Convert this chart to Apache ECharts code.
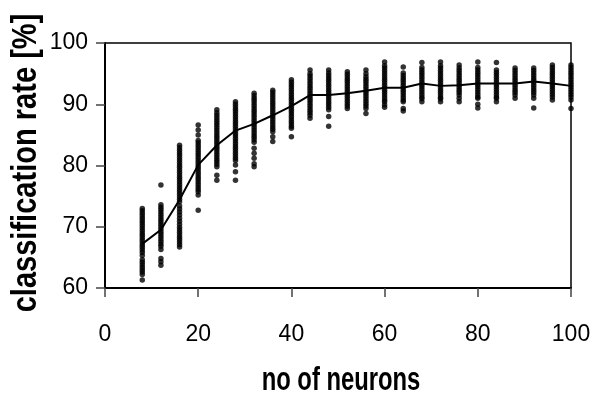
<!DOCTYPE html>
<html>
<head>
<meta charset="utf-8">
<script src="https://cdn.jsdelivr.net/npm/echarts@6/dist/echarts.min.js"></script>
<style>
html,body{margin:0;padding:0;background:#fff;}
#chart{width:595px;height:396px;}
</style>
</head>
<body>
<div id="chart"></div>
<script>
// Number of neurons (x positions of the columns)
var neurons = [8,12,16,20,24,28,32,36,40,44,48,52,56,60,64,68,72,76,80,84,88,92,96,100];
// Mean classification rate per neuron count (the line)
var meanRate = [67.2,69.5,74.4,80.1,83.3,85.7,86.8,88.2,89.7,91.5,91.5,91.8,92.2,92.7,92.7,93.4,93.0,93.1,93.4,93.4,93.4,93.7,93.4,93.0];
// Individual runs per neuron count
var r8 = [73.0,72.6,72.2,71.8,71.4,71.0,70.6,70.2,69.8,69.4,69.0,68.6,68.2,67.8,67.4,67.0,66.6,66.2,65.8,65.3,64.6,64.2,63.8,63.4,63.0,62.6,62.2,61.3];
var r12 = [76.8,73.6,73.2,72.8,72.4,72.0,71.6,71.2,70.8,70.4,70.0,69.6,69.2,68.8,68.4,68.0,67.6,67.2,66.8,66.3,64.8,64.3,63.7];
var r16 = [83.3,82.9,82.5,82.1,81.7,81.3,80.9,80.5,80.1,79.7,79.3,78.9,78.5,78.1,77.7,77.3,76.9,76.5,76.1,75.7,75.3,74.9,74.5,74.1,73.4,72.9,72.4,71.9,71.4,70.9,70.4,69.9,69.5,69.1,68.7,68.3,67.9,67.5,67.1,66.7];
var r20 = [86.6,85.8,85.0,84.1,83.7,83.3,82.9,82.5,82.1,81.7,81.3,80.9,80.5,80.1,79.7,79.3,78.9,78.5,78.1,77.7,77.3,76.9,76.5,76.1,75.7,75.2,72.7];
var r24 = [89.1,88.6,88.2,87.8,87.4,87.0,86.6,86.2,85.8,85.4,85.0,84.6,84.2,83.8,83.4,83.0,82.6,82.2,81.8,81.4,81.0,80.6,80.2,79.8,78.4,77.6];
var r28 = [90.4,90.0,89.6,89.2,88.8,88.4,88.0,87.6,87.2,86.8,86.4,86.0,85.6,85.2,84.8,84.4,84.0,83.6,83.2,82.8,82.4,82.0,81.6,81.2,80.8,80.1,79.0,77.6];
var r32 = [91.8,91.4,91.0,90.6,90.2,89.8,89.4,89.0,88.6,88.2,87.8,87.4,87.0,86.6,86.2,85.8,85.4,85.0,84.6,84.2,83.8,82.8,82.0,81.2,80.3,79.8];
var r36 = [92.3,91.9,91.5,91.1,90.7,90.3,89.9,89.5,89.1,88.7,88.3,87.9,87.5,87.1,86.7,86.3,85.9,85.5,84.7,83.9];
var r40 = [94.0,93.6,93.2,92.8,92.4,92.0,91.6,91.2,90.8,90.4,90.0,89.6,89.2,88.8,88.4,88.0,87.6,87.2,86.8,86.4,86.1,84.7];
var r44 = [95.6,95.0,94.6,94.2,93.8,93.4,93.0,92.6,92.2,91.8,91.4,91.0,90.6,90.2,89.8,89.4,89.0,88.6,88.2,87.7];
var r48 = [95.6,95.1,94.7,94.3,93.9,93.5,93.1,92.7,92.3,91.9,91.5,91.1,90.7,90.3,89.9,89.5,89.1,88.0,86.4];
var r52 = [95.3,94.9,94.5,94.1,93.7,93.3,92.9,92.5,92.1,91.7,91.3,90.9,90.5,90.1,89.7,89.3];
var r56 = [95.6,95.0,94.5,94.1,93.7,93.3,92.9,92.5,92.1,91.7,91.3,90.9,90.5,90.1,89.7,89.3,88.5];
var r60 = [96.9,96.3,95.9,95.5,95.1,94.7,94.3,93.9,93.5,93.1,92.7,92.3,91.9,91.5,91.1,90.7,90.4,89.9,89.5];
var r64 = [96.1,95.1,94.7,94.3,93.9,93.5,93.1,92.7,92.3,91.9,91.5,91.1,90.7,90.4,89.3,88.9];
var r68 = [96.8,96.0,95.6,95.2,94.8,94.4,94.0,93.6,93.2,92.8,92.4,92.0,91.6,91.2,90.9,90.4];
var r72 = [96.9,96.3,95.9,95.5,95.1,94.7,94.3,93.9,93.5,93.1,92.7,92.3,91.9,91.5,91.1,90.9,90.4];
var r76 = [96.4,95.9,95.5,95.1,94.7,94.3,93.9,93.5,93.1,92.7,92.3,91.9,91.5,91.0,90.4];
var r80 = [96.9,96.0,95.6,95.2,94.8,94.4,94.0,93.6,93.2,92.8,92.4,92.0,91.6,91.2,91.0,90.0,89.4];
var r84 = [96.8,95.6,95.2,94.8,94.4,94.0,93.6,93.2,92.8,92.4,92.0,91.6,91.2,91.0,90.4];
var r88 = [95.9,95.5,95.1,94.7,94.3,93.9,93.5,93.1,92.7,92.3,91.9,91.5,91.0];
var r92 = [95.9,95.5,95.1,94.7,94.3,93.9,93.5,93.1,92.7,92.3,91.9,91.5,91.0,89.4];
var r96 = [96.4,96.0,95.6,95.2,94.8,94.4,94.0,93.6,93.2,92.8,92.4,92.0,91.6,91.2,90.7];
var r100 = [96.4,96.0,95.6,95.2,94.8,94.4,94.0,93.6,93.2,92.8,92.4,92.0,91.6,91.2,90.7,89.3];
// Axis titles
var xTitle = 'no of neurons';
var yTitle = 'classification rate [%]';

var runs = [r8,r12,r16,r20,r24,r28,r32,r36,r40,r44,r48,r52,r56,r60,r64,r68,r72,r76,r80,r84,r88,r92,r96,r100];
var scatterData = [];
neurons.forEach(function(n, i){
  runs[i].forEach(function(v){ scatterData.push([n, v]); });
});
var lineData = neurons.map(function(n, i){ return [n, meanRate[i]]; });

var FONT = '"Liberation Sans",Arial,Helvetica,sans-serif';
var tickFont = {fontFamily:FONT, fontSize:23, color:'#000'};

var chart = echarts.init(document.getElementById('chart'), null, {renderer:'canvas'});
chart.setOption({
  animation:false,
  backgroundColor:'#fff',
  grid:{left:105, right:24, top:43, bottom:108, containLabel:false, outerBoundsMode:'none',
        show:true, borderColor:'#000', borderWidth:1.5, backgroundColor:'transparent'},
  xAxis:{
    type:'value', min:0, max:100, interval:20,
    axisLine:{show:true, onZero:false, lineStyle:{color:'#000', width:2}},
    axisTick:{show:true, inside:false, length:9, lineStyle:{color:'#444', width:1.5}},
    axisLabel:Object.assign({margin:35}, tickFont),
    splitLine:{show:false}
  },
  yAxis:{
    type:'value', min:60, max:100, interval:10,
    axisLine:{show:true, onZero:false, lineStyle:{color:'#000', width:2}},
    axisTick:{show:true, inside:false, length:9, lineStyle:{color:'#444', width:1.5}},
    axisLabel:Object.assign({margin:17}, tickFont),
    splitLine:{show:false}
  },
  graphic:[
    {type:'text', x:341, y:381, scaleX:0.7, scaleY:1,
     style:{text:xTitle, font:'bold 34px ' + FONT, fill:'#000', align:'center', verticalAlign:'middle'}},
    {type:'text', x:26, y:163, rotation:Math.PI/2, scaleX:0.83, scaleY:1,
     style:{text:yTitle, font:'bold 35px ' + FONT, fill:'#000', align:'center', verticalAlign:'middle'}}
  ],
  series:[
    {
      type:'scatter', data:scatterData, symbol:'circle', symbolSize:5.5,
      itemStyle:{color:'#000'}, clip:false, z:2
    },
    {
      type:'line', data:lineData, showSymbol:false, symbol:'none',
      lineStyle:{color:'#000', width:2}, z:3, clip:false
    }
  ]
});
</script>
</body>
</html>
